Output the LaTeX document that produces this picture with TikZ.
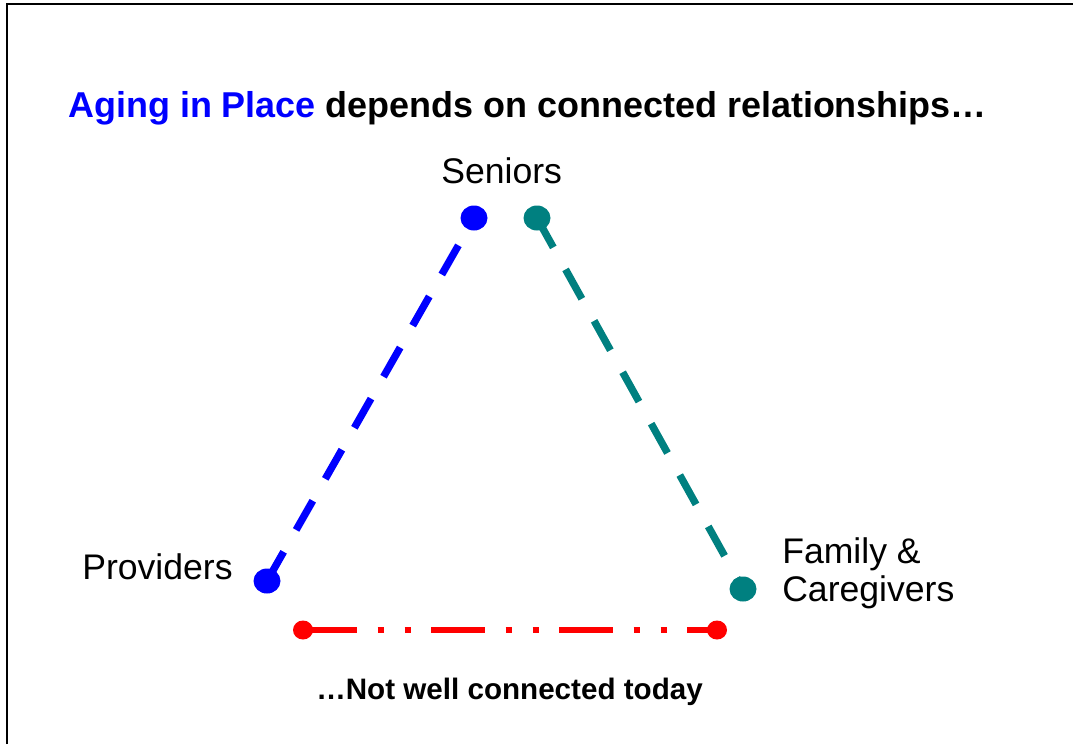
\documentclass[tikz,border=0pt]{standalone}
\usepackage{fontspec}
\setmainfont{Liberation Sans}
\usetikzlibrary{shapes.geometric}
\pgfdeclarelayer{background}
\pgfsetlayers{background,main}
\definecolor{tealc}{RGB}{0,128,128}
\definecolor{pblue}{RGB}{0,0,255}
\definecolor{pred}{RGB}{255,0,0}
\tikzset{
  bigdot/.style={ellipse, inner sep=0pt, minimum width=20.25pt, minimum height=18.75pt, draw=none},
  bdot/.style={bigdot, fill=pblue},
  tdot/.style={bigdot, fill=tealc},
  rdot/.style={ellipse, inner sep=0pt, minimum width=15pt, minimum height=14.25pt, draw=none, fill=pred},
  linkdash/.style={line width=5.5pt, dash pattern=on 25.2pt off 18.9pt},
  redlink/.style={draw=pred, line width=4.5pt, dash pattern=on 40.5pt off 15.5pt on 5pt off 15.25pt on 5pt off 14.75pt},
  label/.style={inner sep=0pt, font=\fontsize{26.7}{32}\selectfont},
  boldlabel/.style={inner sep=0pt, font=\fontsize{26.95}{32}\selectfont\bfseries},
}
\begin{document}
\begin{tikzpicture}[x=0.75pt, y=-0.75pt]
\useasboundingbox (0,0) rectangle (1073,744);
% frame
\draw[line width=1.5pt] (7,744) -- (7,4) -- (1073,4);
% title
\node[boldlabel, anchor=base west] (title) at (68,117) {\textcolor{pblue}{Aging in Place} depends on connected relationships…};
% dots
\node[bdot] (sb) at (474,218) {};
\node[bdot] (pb) at (267,581) {};
\node[tdot] (st) at (537,218) {};
\node[tdot] (ft) at (743,589) {};
\node[rdot] (pr) at (303,630) {};
\node[rdot] (fr) at (717,630) {};
% labels
\node[label, anchor=base west] (seniors) at (441,183) {Seniors};
\node[label, anchor=base west] (providers) at (82,579) {Providers};
\node[label, anchor=base west] (family) at (782,563) {Family \&};
\node[label, anchor=base west] (caregivers) at (782,601) {Caregivers};
\node[inner sep=0pt, anchor=base west, font=\fontsize{22.2}{26}\selectfont\bfseries] (note) at (316,699) {…Not well connected today};
% connectors
\begin{pgfonlayer}{background}
\draw[linkdash, draw=pblue] (pb.center) -- (sb.center);
\draw[linkdash, draw=tealc] (st.center) -- (ft.center);
\draw[redlink] (pr.center) -- (fr.center);
\end{pgfonlayer}
\end{tikzpicture}
\end{document}
